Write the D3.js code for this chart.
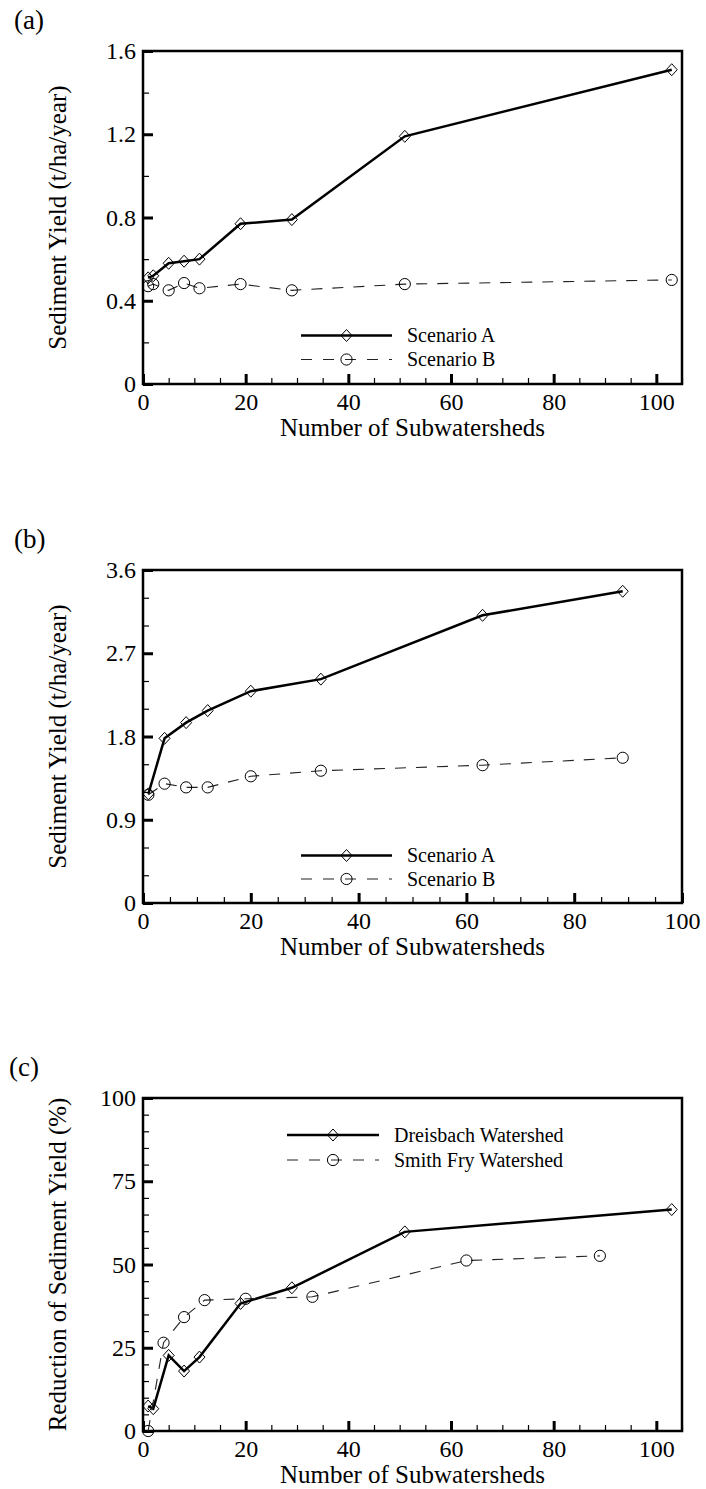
<!DOCTYPE html>
<html>
<head>
<meta charset="utf-8">
<script src="https://cdn.jsdelivr.net/npm/d3@7"></script>
<style>
  body { margin: 0; background: #fff; }
  text { font-family: "Liberation Serif" !important; }
</style>
</head>
<body>
<div id="chart"></div>
<script>
// panel (a)
const xA = [1, 2, 5, 8, 11, 19, 29, 51, 103];
const aScenA = [0.51, 0.52, 0.58, 0.59, 0.60, 0.77, 0.79, 1.19, 1.51];
const aScenB = [0.47, 0.48, 0.45, 0.485, 0.46, 0.48, 0.45, 0.48, 0.50];

// panel (b)
const xB = [1, 4, 8, 12, 20, 33, 63, 89];
const bScenA = [1.18, 1.78, 1.95, 2.08, 2.29, 2.42, 3.11, 3.37];
const bScenB = [1.17, 1.29, 1.25, 1.25, 1.37, 1.43, 1.49, 1.57];

// panel (c)
const cDreis = [7.5, 6.7, 22.7, 18, 22.2, 38.3, 43, 59.8, 66.5];
const cSmith = [0, 26.5, 34.2, 39.3, 39.7, 40.3, 51.2, 52.6];

const xTicks = [0, 20, 40, 60, 80, 100];
const yTicksA = [0, 0.4, 0.8, 1.2, 1.6];
const yTicksB = [0, 0.9, 1.8, 2.7, 3.6];
const yTicksC = [0, 25, 50, 75, 100];

const W = 706, H = 1489;
const left = 143, pw = 539, ph = 333;
const FONT = "Liberation Serif";

const svg = d3.select("#chart").append("svg")
  .attr("width", W).attr("height", H)
  .attr("font-family", FONT);

function zip(xs, ys) { return xs.map((x, i) => [x, ys[i]]); }

const panels = [
  { label: "(a)", top: 51, xMax: 105, yMax: 1.6, yTicks: yTicksA, yMinor: 0.2,
    fmt: d => d === 0 ? "0" : d3.format(".1f")(d),
    yTitle: "Sediment Yield (t/ha/year)",
    series: [
      { name: "Scenario A", pts: zip(xA, aScenA), solid: true },
      { name: "Scenario B", pts: zip(xA, aScenB), solid: false }
    ],
    leg: { x0: 301, x1: 392, tx: 407, y: [ph - 48.5, ph - 24.5] } },
  { label: "(b)", top: 570, xMax: 100, yMax: 3.6, yTicks: yTicksB, yMinor: 0.3,
    fmt: d => d === 0 ? "0" : d3.format(".1f")(d),
    yTitle: "Sediment Yield (t/ha/year)",
    series: [
      { name: "Scenario A", pts: zip(xB, bScenA), solid: true },
      { name: "Scenario B", pts: zip(xB, bScenB), solid: false }
    ],
    leg: { x0: 301, x1: 392, tx: 407, y: [ph - 47.5, ph - 24] } },
  { label: "(c)", top: 1098, xMax: 105, yMax: 100, yTicks: yTicksC, yMinor: 5,
    fmt: d => String(d),
    yTitle: "Reduction of Sediment Yield (%)",
    series: [
      { name: "Dreisbach Watershed", pts: zip(xA, cDreis), solid: true },
      { name: "Smith Fry Watershed", pts: zip(xB, cSmith), solid: false }
    ],
    leg: { x0: 287, x1: 379, tx: 394, y: [37, 62] } }
];

function diamond(g, x, y) {
  g.append("path")
    .attr("d", `M${x},${y - 6}L${x + 5.5},${y}L${x},${y + 6}L${x - 5.5},${y}Z`)
    .attr("fill", "none").attr("stroke", "#000").attr("stroke-width", 1);
}
function circle(g, x, y) {
  g.append("circle").attr("cx", x).attr("cy", y).attr("r", 5.6)
    .attr("fill", "none").attr("stroke", "#000").attr("stroke-width", 1);
}

panels.forEach(p => {
  const g = svg.append("g").attr("transform", `translate(${left},${p.top})`);
  const x = d3.scaleLinear().domain([0, p.xMax]).range([0, pw]);
  const y = d3.scaleLinear().domain([0, p.yMax]).range([ph, 0]);

  // minor ticks
  const xMinor = d3.range(0, p.xMax + 0.001, 5).filter(v => v % 20 !== 0);
  const yMinor = d3.range(0, p.yMax + 1e-6, p.yMinor)
    .filter(v => !p.yTicks.some(t => Math.abs(t - v) < 1e-6));

  g.append("g").attr("transform", `translate(0,${ph})`)
    .call(d3.axisBottom(x).tickValues(xMinor).tickSize(-6).tickFormat(""))
    .call(a => a.select(".domain").remove())
    .selectAll("line").attr("stroke", "#000").attr("stroke-width", 1.2);
  g.append("g")
    .call(d3.axisLeft(y).tickValues(yMinor).tickSize(-6).tickFormat(""))
    .call(a => a.select(".domain").remove())
    .selectAll("line").attr("stroke", "#000").attr("stroke-width", 1.2);

  // major ticks + labels
  const xa = g.append("g").attr("transform", `translate(0,${ph})`)
    .call(d3.axisBottom(x).tickValues(xTicks).tickSize(-10).tickPadding(9).tickFormat(d3.format("d")))
    .call(a => a.select(".domain").remove())
    .attr("font-family", FONT).attr("font-size", 24);
  xa.selectAll("line").attr("stroke", "#000").attr("stroke-width", 3);
  xa.selectAll("text").attr("dy", "0.71em");

  const ya = g.append("g")
    .call(d3.axisLeft(y).tickValues(p.yTicks).tickSize(-10).tickPadding(7).tickFormat(p.fmt))
    .call(a => a.select(".domain").remove())
    .attr("font-family", FONT).attr("font-size", 24);
  ya.selectAll("line").attr("stroke", "#000").attr("stroke-width", 3);

  // frame
  g.append("rect").attr("width", pw).attr("height", ph)
    .attr("fill", "none").attr("stroke", "#000").attr("stroke-width", 2.5);

  // lines and markers
  p.series.forEach(s => {
    const line = d3.line().x(d => x(d[0])).y(d => y(d[1]));
    g.append("path").datum(s.pts)
      .attr("d", line).attr("fill", "none")
      .attr("stroke", s.solid ? "#000" : "#222")
      .attr("stroke-width", s.solid ? 2.5 : 1.1)
      .attr("stroke-dasharray", s.solid ? null : "11,10");
    s.pts.forEach(d => (s.solid ? diamond : circle)(g, x(d[0]), y(d[1])));
  });

  // legend
  p.series.forEach((s, i) => {
    const ly = p.leg.y[i];
    const x0 = p.leg.x0 - left, x1 = p.leg.x1 - left;
    g.append("line").attr("x1", x0).attr("x2", x1).attr("y1", ly).attr("y2", ly)
      .attr("stroke", s.solid ? "#000" : "#222")
      .attr("stroke-width", s.solid ? 2.5 : 1.1)
      .attr("stroke-dasharray", s.solid ? null : "11,11");
    (s.solid ? diamond : circle)(g, (x0 + x1) / 2, ly);
    g.append("text").attr("x", p.leg.tx - left).attr("y", ly).attr("dy", "0.33em")
      .attr("font-family", FONT).attr("font-size", 20).text(s.name);
  });

  // titles
  g.append("text").attr("x", pw / 2).attr("y", ph + 52)
    .attr("text-anchor", "middle").attr("font-family", FONT).attr("font-size", 25)
    .text("Number of Subwatersheds");
  g.append("text").attr("transform", `translate(${66 - left},${ph / 2}) rotate(-90)`)
    .attr("text-anchor", "middle").attr("font-family", FONT).attr("font-size", 25)
    .text(p.yTitle);
  svg.append("text").attr("x", p.label === "(c)" ? 9 : 14).attr("y", p.top - 31)
    .attr("dy", "0.35em").attr("font-family", FONT).attr("font-size", 27).text(p.label);
});
</script>
</body>
</html>
